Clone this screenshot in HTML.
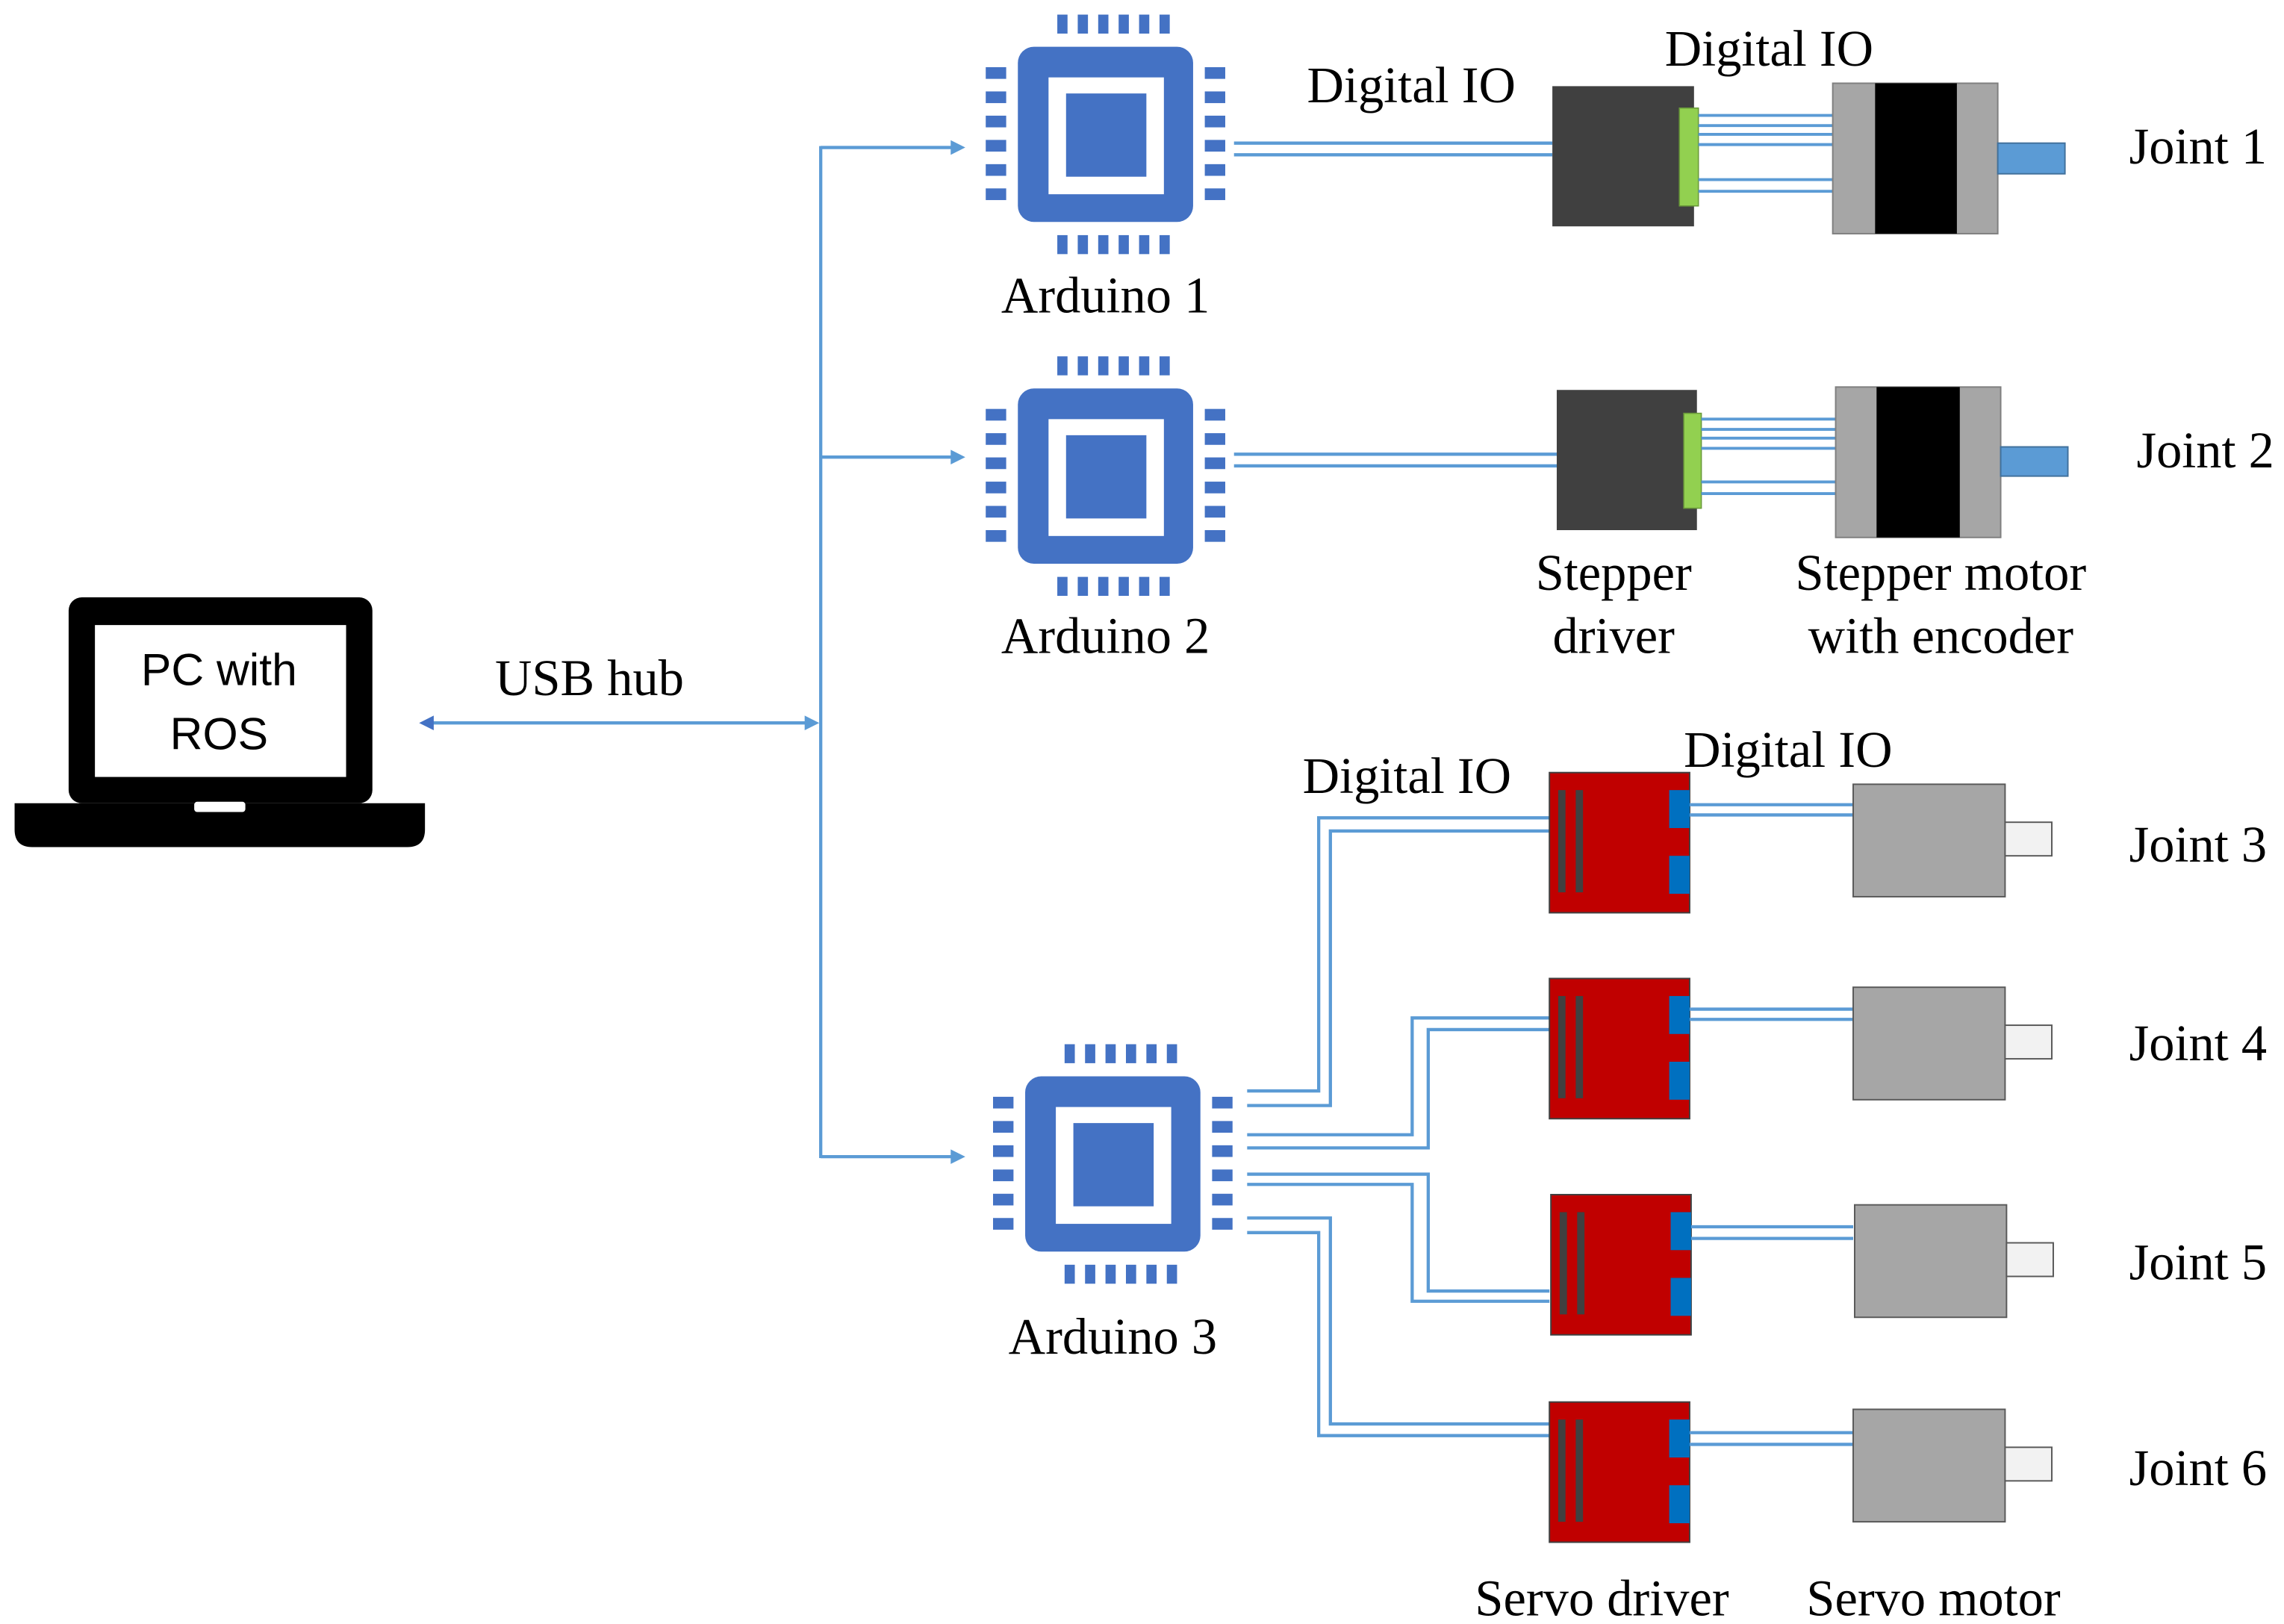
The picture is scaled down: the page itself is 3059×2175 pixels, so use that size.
<!DOCTYPE html>
<html><head><meta charset="utf-8"><style>
html,body{margin:0;padding:0;background:#fff;}
svg{display:block;}
.t{font-family:"Liberation Serif",serif;font-size:35px;fill:#000;}
.s{font-family:"Liberation Sans",sans-serif;font-size:31px;fill:#000;}
.w{fill:none;stroke:#5B9BD5;stroke-width:2.2;}
</style></head><body>
<svg width="3059" height="2175" viewBox="0 0 1564 1112" preserveAspectRatio="none" xmlns="http://www.w3.org/2000/svg">
<defs>
<g id="chip">
<rect x="0" y="0" width="120" height="120" rx="11" fill="#4472C4"/>
<rect x="21" y="21" width="79" height="80" fill="#fff"/>
<rect x="33" y="32" width="55" height="57" fill="#4472C4"/>
<g fill="#4472C4">
<rect x="27" y="-22" width="7" height="13"/><rect x="41" y="-22" width="7" height="13"/><rect x="55" y="-22" width="7" height="13"/><rect x="69" y="-22" width="7" height="13"/><rect x="83" y="-22" width="7" height="13"/><rect x="97" y="-22" width="7" height="13"/>
<rect x="27" y="129" width="7" height="13"/><rect x="41" y="129" width="7" height="13"/><rect x="55" y="129" width="7" height="13"/><rect x="69" y="129" width="7" height="13"/><rect x="83" y="129" width="7" height="13"/><rect x="97" y="129" width="7" height="13"/>
<rect x="-22" y="14" width="14" height="8"/><rect x="-22" y="30.6" width="14" height="8"/><rect x="-22" y="47.2" width="14" height="8"/><rect x="-22" y="63.8" width="14" height="8"/><rect x="-22" y="80.4" width="14" height="8"/><rect x="-22" y="97" width="14" height="8"/>
<rect x="128" y="14" width="14" height="8"/><rect x="128" y="30.6" width="14" height="8"/><rect x="128" y="47.2" width="14" height="8"/><rect x="128" y="63.8" width="14" height="8"/><rect x="128" y="80.4" width="14" height="8"/><rect x="128" y="97" width="14" height="8"/>
</g>
</g>
<g id="servo">
<rect x="0" y="0" width="96" height="96" fill="#C00000" stroke="#404040" stroke-width="1"/>
<rect x="6" y="12" width="5" height="70" fill="#404040"/>
<rect x="18" y="12" width="5" height="70" fill="#404040"/>
<rect x="82" y="12" width="14" height="26" fill="#0070C0"/>
<rect x="82" y="57" width="14" height="26" fill="#0070C0"/>
</g>
<g id="smotor">
<rect x="0" y="0" width="104" height="77" fill="#A6A6A6" stroke="#595959" stroke-width="1"/>
<rect x="104" y="26" width="32" height="23" fill="#F2F2F2" stroke="#595959" stroke-width="1"/>
</g>
</defs>

<!-- laptop -->
<rect x="47" y="409" width="208" height="141" rx="9" fill="#000"/>
<rect x="65" y="428" width="172" height="104" fill="#fff"/>
<text class="s" x="150" y="469" text-anchor="middle">PC with</text>
<text class="s" x="150" y="513" text-anchor="middle">ROS</text>
<path d="M10 550 H291 V568 Q291 580 279 580 H22 Q10 580 10 568 Z" fill="#000"/>
<rect x="133" y="549" width="35" height="7" rx="2" fill="#fff"/>

<!-- USB -->
<text class="t" x="339" y="476">USB hub</text>
<line class="w" x1="292" y1="495" x2="556" y2="495"/>
<path d="M287 495 L297 490 L297 500 Z" fill="#4472C4"/>
<path d="M561 495 L551 490 L551 500 Z" fill="#5B9BD5"/>
<line class="w" x1="562" y1="100" x2="562" y2="793"/>
<line class="w" x1="562" y1="101" x2="655" y2="101"/>
<line class="w" x1="562" y1="313" x2="655" y2="313"/>
<line class="w" x1="562" y1="792" x2="655" y2="792"/>
<path d="M661 101 L651 96 L651 106 Z" fill="#5B9BD5"/>
<path d="M661 313 L651 308 L651 318 Z" fill="#5B9BD5"/>
<path d="M661 792 L651 787 L651 797 Z" fill="#5B9BD5"/>

<!-- chips -->
<use href="#chip" x="697" y="32"/>
<use href="#chip" x="697" y="266"/>
<use href="#chip" x="702" y="737"/>
<text class="t" x="757" y="214" text-anchor="middle">Arduino 1</text>
<text class="t" x="757" y="447" text-anchor="middle">Arduino 2</text>
<text class="t" x="762" y="927" text-anchor="middle">Arduino 3</text>

<!-- stepper rows -->
<text class="t" x="895" y="70">Digital IO</text>
<text class="t" x="1140" y="45">Digital IO</text>
<line class="w" x1="845" y1="98" x2="1063" y2="98"/>
<line class="w" x1="845" y1="106" x2="1063" y2="106"/>
<rect x="1063" y="59" width="97" height="96" fill="#404040"/>
<rect x="1150" y="74" width="13" height="67" fill="#92D050" stroke="#6a9a3a" stroke-width="0.8"/>
<g class="w" style="stroke-width:2">
<line x1="1163" y1="79" x2="1255" y2="79"/><line x1="1163" y1="86" x2="1255" y2="86"/><line x1="1163" y1="92" x2="1255" y2="92"/><line x1="1163" y1="99" x2="1255" y2="99"/><line x1="1163" y1="123" x2="1255" y2="123"/><line x1="1163" y1="131" x2="1255" y2="131"/>
</g>
<rect x="1255" y="57" width="113" height="103" fill="#A6A6A6" stroke="#7f7f7f" stroke-width="1"/>
<rect x="1284" y="57" width="56" height="103" fill="#000"/>
<rect x="1368" y="98" width="46" height="21" fill="#5B9BD5" stroke="#41719C" stroke-width="1"/>
<text class="t" x="1458" y="112">Joint 1</text>

<line class="w" x1="845" y1="311" x2="1066" y2="311"/>
<line class="w" x1="845" y1="319" x2="1066" y2="319"/>
<rect x="1066" y="267" width="96" height="96" fill="#404040"/>
<rect x="1153" y="283" width="12" height="65" fill="#92D050" stroke="#6a9a3a" stroke-width="0.8"/>
<g class="w" style="stroke-width:2">
<line x1="1165" y1="287" x2="1257" y2="287"/><line x1="1165" y1="294" x2="1257" y2="294"/><line x1="1165" y1="300" x2="1257" y2="300"/><line x1="1165" y1="307" x2="1257" y2="307"/><line x1="1165" y1="330" x2="1257" y2="330"/><line x1="1165" y1="338" x2="1257" y2="338"/>
</g>
<rect x="1257" y="265" width="113" height="103" fill="#A6A6A6" stroke="#7f7f7f" stroke-width="1"/>
<rect x="1285" y="265" width="57" height="103" fill="#000"/>
<rect x="1370" y="306" width="46" height="20" fill="#5B9BD5" stroke="#41719C" stroke-width="1"/>
<text class="t" x="1463" y="320">Joint 2</text>
<text class="t" x="1105" y="404" text-anchor="middle">Stepper</text>
<text class="t" x="1105" y="447" text-anchor="middle">driver</text>
<text class="t" x="1329" y="404" text-anchor="middle">Stepper motor</text>
<text class="t" x="1329" y="447" text-anchor="middle">with encoder</text>

<!-- servo section -->
<text class="t" x="892" y="543">Digital IO</text>
<text class="t" x="1153" y="525">Digital IO</text>
<polyline class="w" points="854,747 903,747 903,560 1061,560"/>
<polyline class="w" points="854,757 911,757 911,569 1061,569"/>
<polyline class="w" points="854,777 967,777 967,697 1061,697"/>
<polyline class="w" points="854,786 978,786 978,705 1061,705"/>
<polyline class="w" points="854,804 978,804 978,884 1061,884"/>
<polyline class="w" points="854,811 967,811 967,891 1061,891"/>
<polyline class="w" points="854,834 911,834 911,975 1061,975"/>
<polyline class="w" points="854,844 903,844 903,983 1061,983"/>

<use href="#servo" x="1061" y="529"/>
<use href="#servo" x="1061" y="670"/>
<use href="#servo" x="1062" y="818"/>
<use href="#servo" x="1061" y="960"/>
<g class="w">
<line x1="1157" y1="551" x2="1269" y2="551"/><line x1="1157" y1="558" x2="1269" y2="558"/>
<line x1="1157" y1="691" x2="1269" y2="691"/><line x1="1157" y1="698" x2="1269" y2="698"/>
<line x1="1158" y1="840" x2="1269" y2="840"/><line x1="1158" y1="848" x2="1269" y2="848"/>
<line x1="1157" y1="981" x2="1269" y2="981"/><line x1="1157" y1="989" x2="1269" y2="989"/>
</g>
<use href="#smotor" x="1269" y="537"/>
<use href="#smotor" x="1269" y="676"/>
<use href="#smotor" x="1270" y="825"/>
<use href="#smotor" x="1269" y="965"/>
<text class="t" x="1458" y="590">Joint 3</text>
<text class="t" x="1458" y="726">Joint 4</text>
<text class="t" x="1458" y="876">Joint 5</text>
<text class="t" x="1458" y="1017">Joint 6</text>
<text class="t" x="1010" y="1106">Servo driver</text>
<text class="t" x="1237" y="1106">Servo motor</text>
</svg>
</body></html>
